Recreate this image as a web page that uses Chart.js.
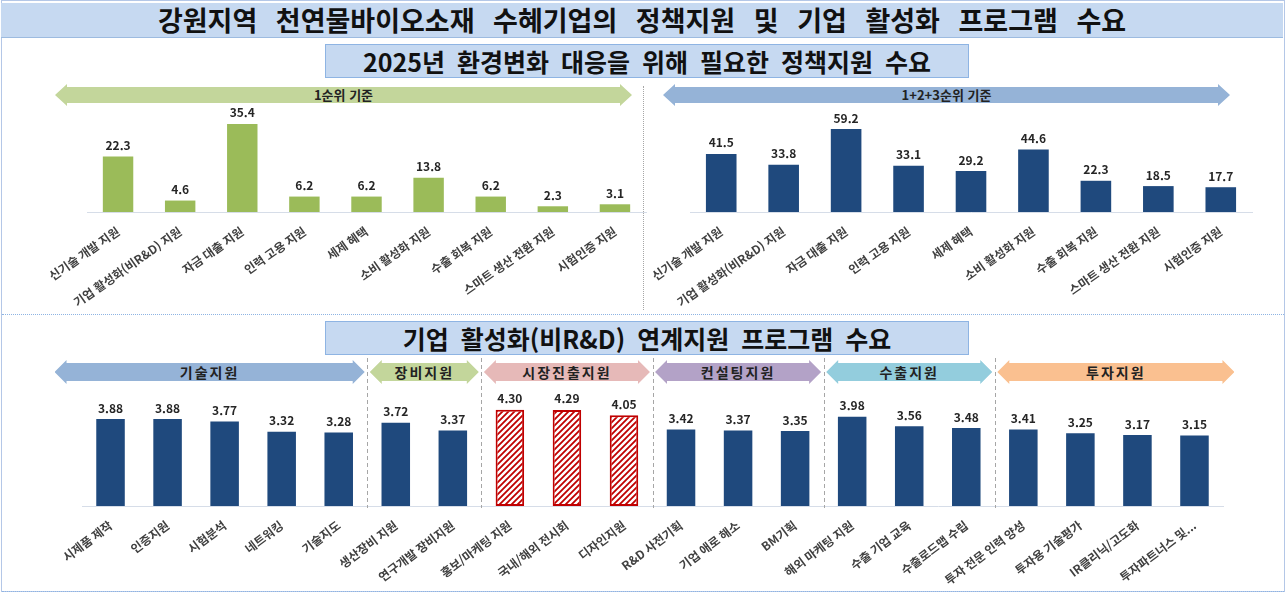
<!DOCTYPE html>
<html lang="ko">
<head>
<meta charset="utf-8">
<script src="https://cdn.jsdelivr.net/npm/chart.js@4"></script>
<style>
  html, body { margin: 0; padding: 0; background: #fff; }
  body { width: 1286px; height: 596px; position: relative; overflow: hidden;
         font-family: "Malgun Gothic", "Noto Sans CJK KR", sans-serif; }
  .abs { position: absolute; }
  .frame { left: 1px; top: 0; width: 1282px; height: 590px; border: 1px solid #b4c7e7; }
  .title { left: 1px; top: 3px; width: 1282px; height: 34px; background: #c6d9f1;
           border-bottom: 1px solid #9dbbe0; text-align: center; line-height: 34px;
           font-size: 27px; font-weight: 700; color: #111; word-spacing: 11px; }
  .sub { left: 325px; width: 642px; height: 32px; background: #c6d9f1; border: 1px solid #8eb4e3;
         text-align: center; line-height: 32px; font-size: 25px; font-weight: 700; color: #111; word-spacing: 5px; }
  .arrow { height: 22px; line-height: 22px; text-align: center; font-size: 13px; font-weight: 700; color: #222;
           clip-path: polygon(0 50%, 12px 0, 12px 3px, calc(100% - 12px) 3px, calc(100% - 12px) 0, 100% 50%,
                              calc(100% - 12px) 100%, calc(100% - 12px) calc(100% - 3px), 12px calc(100% - 3px), 12px 100%); }
  .big { font-size: 14px; letter-spacing: 2px; height: 24px; line-height: 24px; }
  .hdot { left: 2px; width: 1282px; height: 0; border-top: 1px dotted #8eb4e3; }
  .vdot { width: 0; border-left: 1px dotted #a6a6a6; }
  canvas { position: absolute; }
</style>
</head>
<body>
<div class="abs frame"></div>
<div class="abs title">강원지역 천연물바이오소재 수혜기업의 정책지원 및 기업 활성화 프로그램 수요</div>
<div class="abs sub" style="top:44px;">2025년 환경변화 대응을 위해 필요한 정책지원 수요</div>

<div class="abs arrow" style="left:55px; top:84px; width:577px; background:#c3d69b;">1순위 기준</div>
<div class="abs arrow" style="left:663px; top:84px; width:567px; background:#95b3d7;">1+2+3순위 기준</div>
<div class="abs vdot" style="left:643px; top:86px; height:224px;"></div>

<div class="abs hdot" style="top:314px;"></div>
<div class="abs sub" style="top:321px;">기업 활성화(비R&amp;D) 연계지원 프로그램 수요</div>
<div class="abs hdot" style="top:591px;"></div>

<div id="groups"></div>

<canvas id="rank1" width="660" height="212" style="left:0; top:100px;"></canvas>
<canvas id="rank123" width="636" height="212" style="left:650px; top:100px;"></canvas>
<canvas id="program" width="1286" height="246" style="left:0; top:350px;"></canvas>

<script>
const policyLabels = ['신기술 개발 지원', '기업 활성화(비R&D) 지원', '자금 대출 지원', '인력 고용 지원', '세제 혜택',
  '소비 활성화 지원', '수출 회복 지원', '스마트 생산 전환 지원', '시험인증 지원'];
const rank1Values = [22.3, 4.6, 35.4, 6.2, 6.2, 13.8, 6.2, 2.3, 3.1];
const rank123Values = [41.5, 33.8, 59.2, 33.1, 29.2, 44.6, 22.3, 18.5, 17.7];

const programLabels = ['시제품 제작', '인증지원', '시험분석', '네트워킹', '기술지도',
  '생산장비 지원', '연구개발 장비지원',
  '홍보/마케팅 지원', '국내/해외 전시회', '디자인지원',
  'R&D 사전기획', '기업 애로 해소', 'BM기획',
  '해외 마케팅 지원', '수출 기업 교육', '수출로드맵 수립',
  '투자 전문 인력 양성', '투자용 기술평가', 'IR클리닉/고도화', '투자파트너스 및...'];
const programValues = [3.88, 3.88, 3.77, 3.32, 3.28, 3.72, 3.37, 4.30, 4.29, 4.05,
  3.42, 3.37, 3.35, 3.98, 3.56, 3.48, 3.41, 3.25, 3.17, 3.15];
const groupNames = ['기술지원', '장비지원', '시장진출지원', '컨설팅지원', '수출지원', '투자지원'];
const groupSizes = [5, 2, 3, 3, 3, 4];
const groupColors = ['#95b3d7', '#c3d69b', '#e6b9b8', '#b3a2c7', '#93cddd', '#fac090'];
const highlightGroup = 2;

const FONT = '"Malgun Gothic", "Noto Sans CJK KR", sans-serif';

// hatch for the highlighted group
function hatch() {
  const c = document.createElement('canvas');
  c.width = 6; c.height = 6;
  const g = c.getContext('2d');
  g.fillStyle = '#fff';
  g.fillRect(0, 0, 6, 6);
  g.strokeStyle = '#c00000';
  g.lineWidth = 1.8;
  g.beginPath();
  g.moveTo(-1, 7); g.lineTo(7, -1);
  g.moveTo(-1, 1); g.lineTo(1, -1);
  g.moveTo(5, 7); g.lineTo(7, 5);
  g.stroke();
  return g.createPattern(c, 'repeat');
}

const valueLabels = {
  id: 'valueLabels',
  afterDatasetsDraw(chart, args, opts) {
    const ctx = chart.ctx;
    const ds = chart.data.datasets[0];
    chart.getDatasetMeta(0).data.forEach((bar, i) => {
      ctx.save();
      ctx.font = 'bold 12px ' + FONT;
      ctx.fillStyle = '#262626';
      ctx.textAlign = 'center';
      ctx.textBaseline = 'bottom';
      ctx.fillText(ds.data[i].toFixed(opts.digits), bar.x, bar.y - 5);
      ctx.restore();
    });
  }
};

const groupLines = {
  id: 'groupLines',
  beforeDatasetsDraw(chart) {
    const x = chart.scales.x;
    const ctx = chart.ctx;
    let idx = 0;
    ctx.save();
    ctx.strokeStyle = '#a6a6a6';
    ctx.lineWidth = 1;
    ctx.setLineDash([4, 3]);
    groupSizes.slice(0, -1).forEach(n => {
      idx += n;
      const px = Math.round((x.getPixelForValue(idx - 1) + x.getPixelForValue(idx)) / 2) + 0.5;
      ctx.beginPath();
      ctx.moveTo(px, 8);
      ctx.lineTo(px, chart.chartArea.bottom + 2);
      ctx.stroke();
    });
    ctx.restore();
  }
};

function barChart(id, labels, values, color, yMax, pad, rot, digits, axisH, barPct) {
  return new Chart(document.getElementById(id), {
    type: 'bar',
    data: {
      labels: labels,
      datasets: [{ data: values, backgroundColor: color, borderWidth: 0, barPercentage: barPct, categoryPercentage: 1 }]
    },
    plugins: [valueLabels].concat(id === 'program' ? [groupLines] : []),
    options: {
      animation: false,
      responsive: false,
      maintainAspectRatio: false,
      layout: { padding: pad },
      plugins: { legend: { display: false }, tooltip: { enabled: false }, valueLabels: { digits: digits } },
      scales: {
        x: {
          grid: { display: false },
          border: { color: '#d6dde8', width: 1 },
          ticks: { minRotation: rot, maxRotation: rot, autoSkip: false, padding: 4,
                   color: '#404040', font: { family: FONT, size: 12, weight: 'bold' } },
          afterFit: (axis) => { axis.height = axisH; axis.paddingLeft = 0; axis.paddingRight = 0; }
        },
        y: { display: false, min: 0, max: yMax }
      }
    }
  });
}

barChart('rank1', policyLabels, rank1Values, '#9bbb59', 45, { left: 87, right: 14, top: 0, bottom: 0 }, 35, 1, 100, 0.49);
barChart('rank123', policyLabels, rank123Values, '#1f497d', 80, { left: 40, right: 34, top: 0, bottom: 0 }, 35, 1, 100, 0.49);

// bottom chart: per-bar colours from the groups
const pat = hatch();
const progColors = [], progBorders = [], progWidths = [];
groupSizes.forEach((n, g) => {
  for (let k = 0; k < n; k++) {
    progColors.push(g === highlightGroup ? pat : '#1f497d');
    progBorders.push(g === highlightGroup ? '#c00000' : '#1f497d');
    progWidths.push(g === highlightGroup ? 2 : 0);
  }
});
const prog = barChart('program', programLabels, programValues, '#1f497d', 5, { left: 82, right: 63, top: 44, bottom: 0 }, 37, 2, 90, 0.5);
prog.data.datasets[0].backgroundColor = progColors;
prog.data.datasets[0].borderColor = progBorders;
prog.data.datasets[0].borderWidth = progWidths;
prog.data.datasets[0].borderSkipped = false;
prog.update('none');

// group arrows placed from the bottom chart's own category scale
const xs = prog.scales.x;
let start = 0;
const holder = document.getElementById('groups');
groupSizes.forEach((n, g) => {
  const left = xs.getPixelForValue(start) - 28 - (g === 0 ? 30 : 0);
  const right = xs.getPixelForValue(start + n - 1) + 28;
  const d = document.createElement('div');
  d.className = 'abs arrow big';
  d.style.left = (left + 2) + 'px';
  d.style.top = '360px';
  d.style.width = (right - left - 4 + (g === 5 ? 14 : 0)) + 'px';
  d.style.background = groupColors[g];
  d.textContent = groupNames[g];
  holder.appendChild(d);
  start += n;
});
</script>
</body>
</html>
